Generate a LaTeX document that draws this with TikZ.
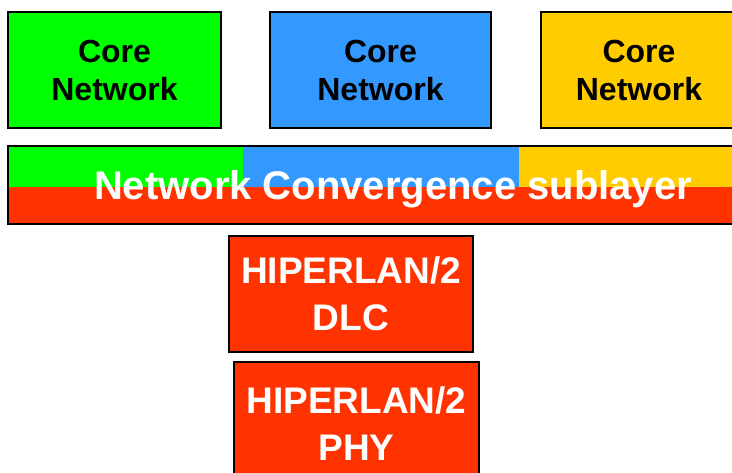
\documentclass[tikz,border=0pt]{standalone}
\usepackage{fontspec}
\setmainfont{Liberation Sans}
\definecolor{cgreen}{HTML}{00FF00}
\definecolor{cblue}{HTML}{3399FF}
\definecolor{cyellow}{HTML}{FFCC00}
\definecolor{cred}{HTML}{FF3300}
\begin{document}
\begin{tikzpicture}[x=1pt,y=-1pt,
  box/.style={draw=black,line width=1.5pt,inner sep=0pt,align=center},
  corebox/.style={box,minimum width=213pt,minimum height=116pt,font=\bfseries\fontsize{32}{38}\selectfont},
  redbox/.style={box,fill=cred,text=white,minimum width=244pt,minimum height=116pt,font=\bfseries\fontsize{37}{47}\selectfont}]
\useasboundingbox (0,0) rectangle (732,473);
% core networks
\node[corebox,fill=cgreen,minimum width=213pt] (cn1) at (114.5,70) {Core\\Network};
\node[corebox,fill=cblue,minimum width=221pt] (cn2) at (380.5,70) {Core\\Network};
\node[corebox,fill=cyellow,minimum width=196pt] (cn3) at (639,70) {Core\\Network};
% convergence bar
\fill[cred] (8,146) rectangle (745,224);
\fill[cgreen] (8,146) rectangle (243,187);
\fill[cblue] (243,146) rectangle (519,187);
\fill[cyellow] (519,146) rectangle (745,187);
\draw[line width=1.5pt] (8,146) rectangle (745,224);
\node[anchor=base,text=white,inner sep=0pt,font=\bfseries\fontsize{40}{48}\selectfont] (ncs) at (393,200) {Network Convergence sublayer};
% HIPERLAN/2 boxes
\node[redbox] (dlc) at (351,294) {HIPERLAN/2\\DLC};
\node[redbox,minimum width=245pt,minimum height=124pt] (phy) at (356.5,424) {HIPERLAN/2\\PHY};
\end{tikzpicture}
\end{document}
